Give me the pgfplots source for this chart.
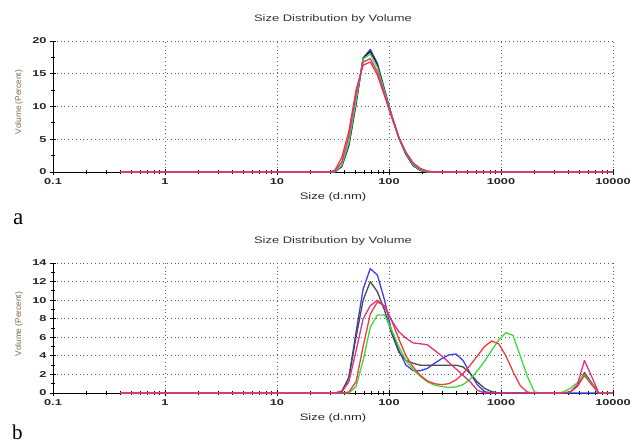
\documentclass[border=0pt]{standalone}
\usepackage{fontspec}
\setmainfont{Liberation Sans}
\newfontfamily\chartfont[FakeStretch=1.38]{Liberation Sans}
\newfontfamily\tickfont[FakeStretch=1.5]{Liberation Sans}
\newfontfamily\panelfont{Liberation Serif}
\usepackage{pgfplots}
\usepackage{pgfplotstable}
\pgfplotsset{compat=1.18}

\definecolor{cBlue}{HTML}{3C3CF0}
\definecolor{cBlack}{HTML}{202020}
\definecolor{cGreen}{HTML}{3CDC3C}
\definecolor{cPink}{HTML}{DC3282}
\definecolor{cRed}{HTML}{F03C3C}
\definecolor{ylab}{HTML}{7A6650}
\definecolor{gridc}{HTML}{606060}

% panel a: volume distribution, five runs
\pgfplotstableread{
x      blue  black green pink  red
0.4    0     0     0     0     0
28.21  0     0     0     0     0
32.67  0     0     0     0.1   0.2
37.84  0.8   0.9   1.0   1.5   2.2
43.82  4.0   4.2   4.5   5.5   6.2
50.75  10.3  10.5  10.8  11.8  12.5
58.77  17.4  17.4  17.3  16.8  16.3
68.06  18.7  18.4  18.0  17.3  16.8
78.82  16.6  16.3  16.0  15.3  14.8
91.28  12.6  12.4  12.3  11.9  11.6
105.7  8.7   8.6   8.6   8.5   8.3
122.4  5.2   5.2   5.2   5.3   5.3
141.8  2.7   2.7   2.8   2.9   3.0
164.2  1.0   1.0   1.1   1.3   1.4
190.1  0.25  0.25  0.3   0.45  0.55
220.2  0     0     0     0.1   0.15
255.0  0     0     0     0     0
10000  0     0     0     0     0
}\distA

% panel b
\pgfplotstableread{
x      blue  black green pink  red
0.4    0     0     0     0     0
32.67  0     0     0     0     0
37.84  0.1   0.2   0     0.1   0
43.82  1.7   1.6   0     1.2   0.1
50.75  6.5   6.0   0.7   4.5   1.2
58.77  11.2  10.0  3.5   8.0   5.0
68.06  13.4  12.0  7.1   9.4   8.5
78.82  12.7  10.9  8.4   10.0  9.8
91.28  10.0  8.9   8.4   9.3   9.4
105.7  6.6   6.4   6.8   7.8   7.8
122.4  4.6   4.4   5.0   6.6   5.8
141.8  3.0   3.5   3.5   5.9   4.0
164.2  2.4   3.2   2.5   5.4   2.8
190.1  2.4   3.0   1.8   5.3   1.9
220.2  2.65  3.0   1.2   5.2   1.3
255.0  3.2   3.0   0.85  4.6   1.0
295.3  3.7   3.0   0.7   4.0   0.9
342.0  4.1   3.0   0.6   3.3   1.0
396.1  4.2   3.0   0.65  2.6   1.4
458.7  3.5   2.8   0.9   1.9   2.1
531.2  2.1   2.1   1.5   1.2   3.0
615.1  0.9   1.2   2.4   0.3   4.0
712.4  0.15  0.5   3.4   0     5.0
825.0  0     0.15  4.6   0     5.6
955.4  0     0     5.7   0     5.3
1106   0     0     6.5   0     4.0
1281   0     0     6.2   0     2.3
1484   0     0     4.0   0     0.8
1718   0     0     1.8   0     0.1
1990   0     0     0.1   0     0
2305   0     0     0     0     0
3091   0     0     0     0     0
3580   0     0     0.1   0     0
4145   0     0.1   0.5   0.1   0.1
4801   0     0.8   1.1   0.9   0.7
5560   0     2.2   2.0   3.5   1.9
6439   0     1.1   1.0   1.8   0.9
7456   0     0     0     0     0
10000  0     0     0     0     0
}\distB

\pgfplotsset{
  every axis plot/.append style={no marks, line width=1.3pt, line join=round},
}

\begin{document}
\begin{tikzpicture}
\useasboundingbox (0,0) rectangle (632pt,-445pt);

\begin{axis}[at={(53pt,-172pt)}, anchor=south west,
  scale only axis, width=560pt, height=131pt,
  xmode=log, xmin=0.1, xmax=10000, ymin=0, ymax=20,
  ytick={0,5,10,15,20},
  axis x line=bottom, axis y line=left,
  axis line style={-, black, line width=0.9pt},
  xtick={0.1,1,10,100,1000,10000},
  xticklabels={0.1,1,10,100,1000,10000},
  minor xtick={0.2,0.3,0.4,0.5,0.6,0.7,0.8,0.9,2,3,4,5,6,7,8,9,20,30,40,50,60,70,80,90,200,300,400,500,600,700,800,900,2000,3000,4000,5000,6000,7000,8000,9000},
  minor ytick={2.5,7.5,12.5,17.5},
  tick align=center,
  major tick length=6pt, minor tick length=4pt,
  tick style={black, line width=0.8pt},
  xmajorgrids, ymajorgrids,
  major grid style={gridc, line width=0.8pt, dash pattern=on 0.8pt off 3pt},
  /pgf/number format/assume math mode=true,
  ticklabel style={font=\tickfont\bfseries\fontsize{8.5}{9}\selectfont, text=black!85},
]
\addplot[cBlue]  table[x=x, y=blue]  {\distA};
\addplot[cBlack] table[x=x, y=black] {\distA};
\addplot[cGreen] table[x=x, y=green] {\distA};
\addplot[cRed]   table[x=x, y=red]   {\distA};
\addplot[cPink]  table[x=x, y=pink]  {\distA};
\end{axis}

\begin{axis}[at={(53pt,-393pt)}, anchor=south west,
  scale only axis, width=560pt, height=130pt,
  xmode=log, xmin=0.1, xmax=10000, ymin=0, ymax=14,
  ytick={0,2,4,6,8,10,12,14},
  axis x line=bottom, axis y line=left,
  axis line style={-, black, line width=0.9pt},
  xtick={0.1,1,10,100,1000,10000},
  xticklabels={0.1,1,10,100,1000,10000},
  minor xtick={0.2,0.3,0.4,0.5,0.6,0.7,0.8,0.9,2,3,4,5,6,7,8,9,20,30,40,50,60,70,80,90,200,300,400,500,600,700,800,900,2000,3000,4000,5000,6000,7000,8000,9000},
  minor ytick={1,3,5,7,9,11,13},
  tick align=center,
  major tick length=6pt, minor tick length=4pt,
  tick style={black, line width=0.8pt},
  xmajorgrids, ymajorgrids,
  major grid style={gridc, line width=0.8pt, dash pattern=on 0.8pt off 3pt},
  /pgf/number format/assume math mode=true,
  ticklabel style={font=\tickfont\bfseries\fontsize{8.5}{9}\selectfont, text=black!85},
]
\addplot[cBlue]  table[x=x, y=blue]  {\distB};
\addplot[black!70] table[x=x, y=black] {\distB};
\addplot[cGreen] table[x=x, y=green] {\distB};
\addplot[cRed]   table[x=x, y=red]   {\distB};
\addplot[cPink]  table[x=x, y=pink]  {\distB};
\end{axis}

% titles and labels
\begingroup
\chartfont\fontsize{9.4}{10}\selectfont
\node[anchor=base, text=black!80] at (333pt,-21pt) {Size Distribution by Volume};
\node[anchor=base, text=black!80] at (333pt,-243.5pt) {Size Distribution by Volume};
\node[anchor=base, text=black!85] at (333pt,-199.5pt) {Size (d.nm)};
\node[anchor=base, text=black!85] at (333pt,-420pt) {Size (d.nm)};
\endgroup
\node[rotate=90, text=ylab, font=\fontsize{8.3}{9}\selectfont] at (19pt,-102pt) {Volume (Percent)};
\node[rotate=90, text=ylab, font=\fontsize{8.3}{9}\selectfont] at (19pt,-324pt) {Volume (Percent)};
\node[anchor=base west, inner sep=0pt, font=\panelfont\fontsize{23}{23}\selectfont] at (13pt,-224pt) {a};
\node[anchor=base west, inner sep=0pt, font=\panelfont\fontsize{21}{21}\selectfont] at (12pt,-439pt) {b};
\end{tikzpicture}
\end{document}
